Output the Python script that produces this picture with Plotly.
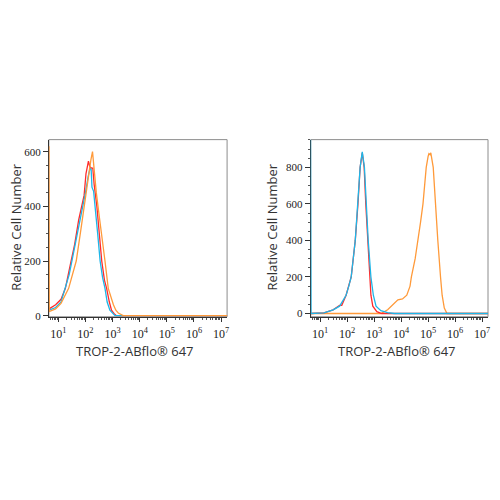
import plotly.graph_objects as go

# ---- data (x as log10 of fluorescence intensity, y = cell count) ----
left_red_log = [0.66, 0.9, 1.1, 1.26, 1.45, 1.6, 1.75, 1.85, 1.95, 2.02, 2.11, 2.16, 2.22, 2.27, 2.32, 2.42, 2.52, 2.60, 2.70, 2.78, 2.88, 2.96, 3.05, 3.14, 7.25]
left_red_y = [25, 40, 60, 100, 190, 260, 350, 400, 440, 520, 565, 545, 540, 540, 480, 400, 300, 200, 130, 100, 50, 20, 8, 0, 0]

left_blue_log = [0.66, 0.9, 1.1, 1.26, 1.4, 1.5, 1.6, 1.71, 1.8, 1.9, 2.0, 2.1, 2.17, 2.21, 2.24, 2.3, 2.36, 2.45, 2.54, 2.63, 2.72, 2.8, 2.9, 3.0, 3.09, 7.25]
left_blue_y = [20, 30, 50, 100, 150, 200, 250, 300, 350, 400, 450, 510, 540, 535, 470, 455, 400, 300, 200, 140, 100, 50, 20, 8, 0, 0]

left_orange_log = [0.655, 0.665, 0.9, 1.1, 1.38, 1.55, 1.66, 1.81, 1.95, 2.05, 2.11, 2.2, 2.26, 2.3, 2.34, 2.40, 2.5, 2.6, 2.72, 2.84, 2.95, 3.03, 3.12, 3.21, 3.39, 7.25]
left_orange_y = [620, 15, 25, 45, 100, 160, 200, 300, 400, 460, 500, 570, 600, 560, 500, 450, 370, 300, 200, 100, 60, 40, 20, 10, 0, 0]

right_red_log = [0.66, 1.14, 1.48, 1.65, 1.72, 1.8, 1.96, 2.15, 2.30, 2.40, 2.48, 2.56, 2.63, 2.69, 2.76, 2.83, 2.88, 2.95, 3.10, 3.28, 7.25]
right_red_y = [0, 3, 20, 40, 45, 45, 100, 200, 400, 600, 800, 880, 800, 600, 400, 200, 100, 40, 10, 0, 0]

right_blue_log = [0.64, 0.66, 1.14, 1.48, 1.72, 1.96, 2.06, 2.15, 2.30, 2.40, 2.48, 2.56, 2.64, 2.71, 2.78, 2.88, 2.97, 3.07, 3.25, 3.50, 3.75, 7.25]
right_blue_y = [990, 0, 3, 20, 40, 100, 150, 200, 400, 600, 800, 885, 800, 600, 400, 200, 100, 40, 15, 5, 0, 0]

right_orange_log = [0.66, 3.25, 3.5, 3.69, 3.88, 4.05, 4.15, 4.21, 4.33, 4.38, 4.52, 4.63, 4.72, 4.81, 4.87, 4.93, 5.0, 5.03, 5.07, 5.10, 5.19, 5.27, 5.36, 5.46, 5.52, 5.60, 5.70, 7.25]
right_orange_y = [0, 0, 20, 50, 75, 80, 90, 100, 150, 200, 300, 400, 500, 600, 700, 800, 860, 875, 870, 880, 800, 600, 400, 200, 100, 30, 0, 0]

x_tick_exp = [1, 2, 3, 4, 5, 6, 7]
x_tick_text = ["10<sup>%d</sup>" % e for e in x_tick_exp]
left_y_ticks = [0, 200, 400, 600]
right_y_ticks = [0, 200, 400, 600, 800]
x_title = "TROP-2-ABflo® 647"
y_title = "Relative Cell Number"

RED = "#FF2B2B"
BLUE = "#1DB6E8"
ORANGE = "#FF9A3A"

W = 484  # figure size; page body adds an 8px offset
OFF = 8


def fx(p):
    return (p - OFF) / W


def fy(p):
    return 1 - (p - OFF) / W


def lin(vals):
    return [10 ** v for v in vals]


fig = go.Figure()

# left panel
fig.add_trace(go.Scatter(x=lin(left_red_log), y=left_red_y, mode="lines", line=dict(color=RED, width=1.3), xaxis="x", yaxis="y"))
fig.add_trace(go.Scatter(x=lin(left_blue_log), y=left_blue_y, mode="lines", line=dict(color=BLUE, width=1.3), xaxis="x", yaxis="y"))
fig.add_trace(go.Scatter(x=lin(left_orange_log), y=left_orange_y, mode="lines", line=dict(color=ORANGE, width=1.3), xaxis="x", yaxis="y"))

# right panel
fig.add_trace(go.Scatter(x=lin(right_orange_log), y=right_orange_y, mode="lines", line=dict(color=ORANGE, width=1.3), xaxis="x2", yaxis="y2"))
fig.add_trace(go.Scatter(x=lin(right_red_log), y=right_red_y, mode="lines", line=dict(color=RED, width=1.3), xaxis="x2", yaxis="y2"))
fig.add_trace(go.Scatter(x=lin(right_blue_log), y=right_blue_y, mode="lines", line=dict(color=BLUE, width=1.3), xaxis="x2", yaxis="y2"))

tickfont_x = dict(family="Liberation Serif", size=12, color="#222222")
tickfont_y = dict(family="Liberation Serif", size=11, color="#222222")

xcommon = dict(type="log", range=[0.65, 7.22], tickmode="array",
               tickvals=lin(x_tick_exp), ticktext=x_tick_text,
               showgrid=False, zeroline=False, showline=True, linecolor="#333333", linewidth=1,
               ticks="outside", ticklen=4, tickcolor="#333333", tickfont=tickfont_x,
               ticklabelstandoff=2,
               minor=dict(ticks="outside", ticklen=2, tickcolor="#555555", dtick="D1", showgrid=False),
               layer="below traces")
ycommon = dict(showgrid=False, zeroline=False, showline=True, linecolor="#333333", linewidth=1,
               ticks="outside", ticklen=5, tickcolor="#333333", tickfont=tickfont_y,
               layer="below traces")

ydom = [fy(320), fy(141)]
fig.update_layout(
    width=W, height=W,
    margin=dict(l=0, r=0, t=0, b=0),
    paper_bgcolor="white", plot_bgcolor="white",
    showlegend=False,
    xaxis=dict(xcommon, domain=[fx(49), fx(228)], anchor="y"),
    yaxis=dict(ycommon, domain=ydom, anchor="x", range=[-4, 644], tickvals=left_y_ticks,
               minor=dict(ticks="outside", ticklen=2, tickcolor="#555555", dtick=50)),
    xaxis2=dict(xcommon, domain=[fx(312), fx(490)], anchor="y2"),
    yaxis2=dict(ycommon, domain=ydom, anchor="x2", range=[-18, 952], tickvals=right_y_ticks,
                minor=dict(ticks="outside", ticklen=2, tickcolor="#555555", dtick=50)),
)

# gray frame (top/right)
for xd, yd in [("x domain", "y domain"), ("x2 domain", "y2 domain")]:
    fig.add_shape(type="rect", xref=xd, yref=yd, x0=0, x1=1, y0=0, y1=1,
                  line=dict(color="#8C8C8C", width=1), layer="below")

# axis titles
titlefont = dict(family="Open Sans", size=13, color="#333333")
for cx in [136, 399]:
    fig.add_annotation(text=x_title, x=fx(cx), y=fy(355), xref="paper", yref="paper",
                       showarrow=False, font=titlefont, xanchor="center", yanchor="middle")
for cx in [16, 273]:
    fig.add_annotation(text=y_title, x=fx(cx), y=fy(229), xref="paper", yref="paper",
                       showarrow=False, font=titlefont, textangle=-90, xanchor="center", yanchor="middle")

fig.write_html("out.html")
